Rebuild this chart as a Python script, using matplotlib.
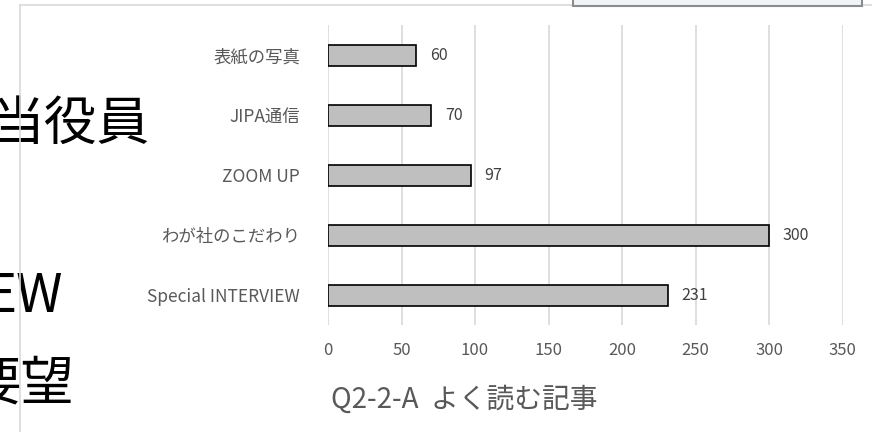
import matplotlib
matplotlib.use("Agg")
import matplotlib.pyplot as plt
from matplotlib.patches import Rectangle
from matplotlib.lines import Line2D

plt.rcParams['font.family'] = ['Noto Sans CJK JP', 'DejaVu Sans']

categories = ["表紙の写真", "JIPA通信", "ZOOM UP", "わが社のこだわり", "Special INTERVIEW"]
values = [60, 70, 97, 300, 231]
xticks = [0, 50, 100, 150, 200, 250, 300, 350]
title = "Q2-2-A  よく読む記事"
bg_texts = ["当役員", "EW", "要望"]

W, H = 872, 432
fig = plt.figure(figsize=(W / 100, H / 100), dpi=100)
fig.patch.set_facecolor("white")

# background slide text (cut off at the left)
bg_pos = [(150, 124), (63, 296), (74, 384)]
for t, (x, y) in zip(bg_texts, bg_pos):
    fig.text(x / W, 1 - y / H, t, ha="right", va="center", fontsize=38,
             color="black", zorder=0)

# chart frame
fig.add_artist(Line2D([20 / W, 20 / W], [0, 1 - 5 / H], color="#d9d9d9", lw=1.2, zorder=5))
fig.add_artist(Line2D([20 / W, 1], [1 - 5 / H, 1 - 5 / H], color="#d9d9d9", lw=1.2, zorder=5))
# overlapping picture box at top-right
fig.add_artist(Rectangle((573 / W, 1 - 6 / H), (862 - 573) / W, 10 / H,
                         transform=fig.transFigure, facecolor="#eef4f8",
                         edgecolor="#8c8c8c", lw=1.5, zorder=6))

ax = fig.add_axes([328 / W, 1 - 325 / H, (842.5 - 328) / W, 300 / H])
ypos = list(range(len(categories)))
ax.barh(ypos, values, height=0.35, color="#bfbfbf", edgecolor="black", lw=1.2, zorder=3)
for y, v in zip(ypos, values):
    ax.text(v + 9.5, y, str(v), va="center", ha="left", fontsize=11.5, color="#404040")

ax.set_ylim(len(categories) - 0.5, -0.5)
ax.set_xlim(0, 350)
ax.set_yticks(ypos)
ax.set_yticklabels(categories, fontsize=12.5, color="#595959")
ax.set_xticks(xticks)
ax.set_xticklabels([str(t) for t in xticks], fontsize=12, color="#595959")
ax.tick_params(axis="y", length=0, pad=20)
ax.tick_params(axis="x", length=0, pad=12)
ax.grid(axis="x", color="#d9d9d9", lw=1.2, zorder=0)
for s in ax.spines.values():
    s.set_visible(False)

fig.text(331 / W, 1 - 400 / H, title, ha="left", va="center", fontsize=20, color="#595959")

fig.savefig("out.png", dpi=100)
